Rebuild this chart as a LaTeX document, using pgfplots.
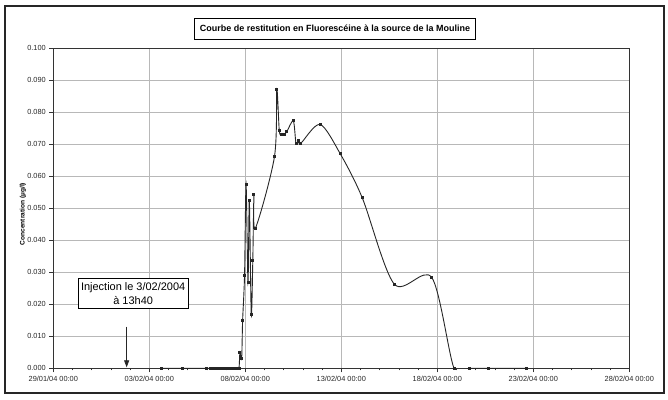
\documentclass[border=0pt]{standalone}
\usepackage{fontspec}
\setmainfont{Liberation Sans}
\usepackage{pgfplots}
\pgfplotsset{compat=1.18}
\usetikzlibrary{arrows.meta}
\definecolor{gridc}{gray}{0.72}
\definecolor{linec}{gray}{0.15}
\begin{document}
\begin{tikzpicture}[x=1bp,y=1bp]
\path[use as bounding box] (0,0) rectangle (668,399);
\draw[line width=1.6bp, black!85] (5,6) rectangle (664,393);
\node[draw, line width=0.6bp, minimum width=281bp, minimum height=21bp, inner sep=0pt,
  font=\fontsize{9}{10}\selectfont\bfseries] at (335,370.5)
  {Courbe de restitution en Fluorescéine à la source de la Mouline};
\node[rotate=90, font=\fontsize{6.6}{7}\selectfont\bfseries] at (23,185) {Concentration (µg/l)};
\begin{axis}[at={(53.3bp,30.7bp)}, anchor=south west, scale only axis,
  width=576bp, height=320bp,
  xmin=0, xmax=30, ymin=0, ymax=0.1,
  xtick={0,5,10,15,20,25,30},
  xticklabels={29/01/04 00:00,03/02/04 00:00,08/02/04 00:00,13/02/04 00:00,18/02/04 00:00,23/02/04 00:00,28/02/04 00:00},
  ytick={0,0.01,0.02,0.03,0.04,0.05,0.06,0.07,0.08,0.09,0.1},
  minor x tick num=4,
  tick pos=left, tick align=outside,
  major tick length=4bp, minor tick length=2bp,
  every tick/.style={black!80, line width=0.5bp},
  grid=major,
  major grid style={gridc, line width=0.5bp},
  axis line style={black!80, line width=0.8bp},
  /pgf/number format/assume math mode=true,
  yticklabel style={/pgf/number format/.cd, fixed, fixed zerofill, precision=3},
  ticklabel style={font=\fontsize{7.4}{8}\selectfont, text=black!85},
  scaled y ticks=false,
]
\addplot[linec, line width=0.9bp, smooth, tension=0.5, mark=square*, mark size=1bp,
  mark options={solid, fill=linec}] coordinates {
(5.65,0) (6.74,0) (7.99,0) (8.2,0) (8.35,0) (8.5,0) (8.65,0) (8.8,0) (8.95,0)
(9.1,0) (9.25,0) (9.4,0) (9.55,0) (9.67,0)
(9.72,0.0049) (9.81,0.0031) (9.86,0.0149) (9.96,0.0290) (10.04,0.0575)
(10.14,0.0269) (10.21,0.0524) (10.31,0.0167) (10.39,0.0336) (10.45,0.0542)
(10.52,0.0437) (11.52,0.0662) (11.64,0.0872) (11.77,0.0742) (11.88,0.0731)
(12.02,0.0731) (12.16,0.0739) (12.50,0.0773) (12.64,0.0703) (12.78,0.0711)
(12.89,0.0703) (13.89,0.0762) (14.93,0.0672) (16.09,0.0533) (17.76,0.0263)
(19.71,0.0284) (20.87,0) (21.65,0) (22.64,0) (24.65,0)
};
\draw[line width=0.8bp, black!85, -{Triangle[width=5bp,length=7bp]}]
  (axis cs:3.82,0.0130) -- (axis cs:3.82,0.0003);
\node[draw, fill=white, line width=0.5bp, align=center, inner sep=1bp,
  font=\fontsize{11}{14}\selectfont, minimum width=110bp, minimum height=30bp]
  at (axis cs:4.16,0.0234) {Injection le 3/02/2004\\à 13h40};
\end{axis}
\end{tikzpicture}
\end{document}
